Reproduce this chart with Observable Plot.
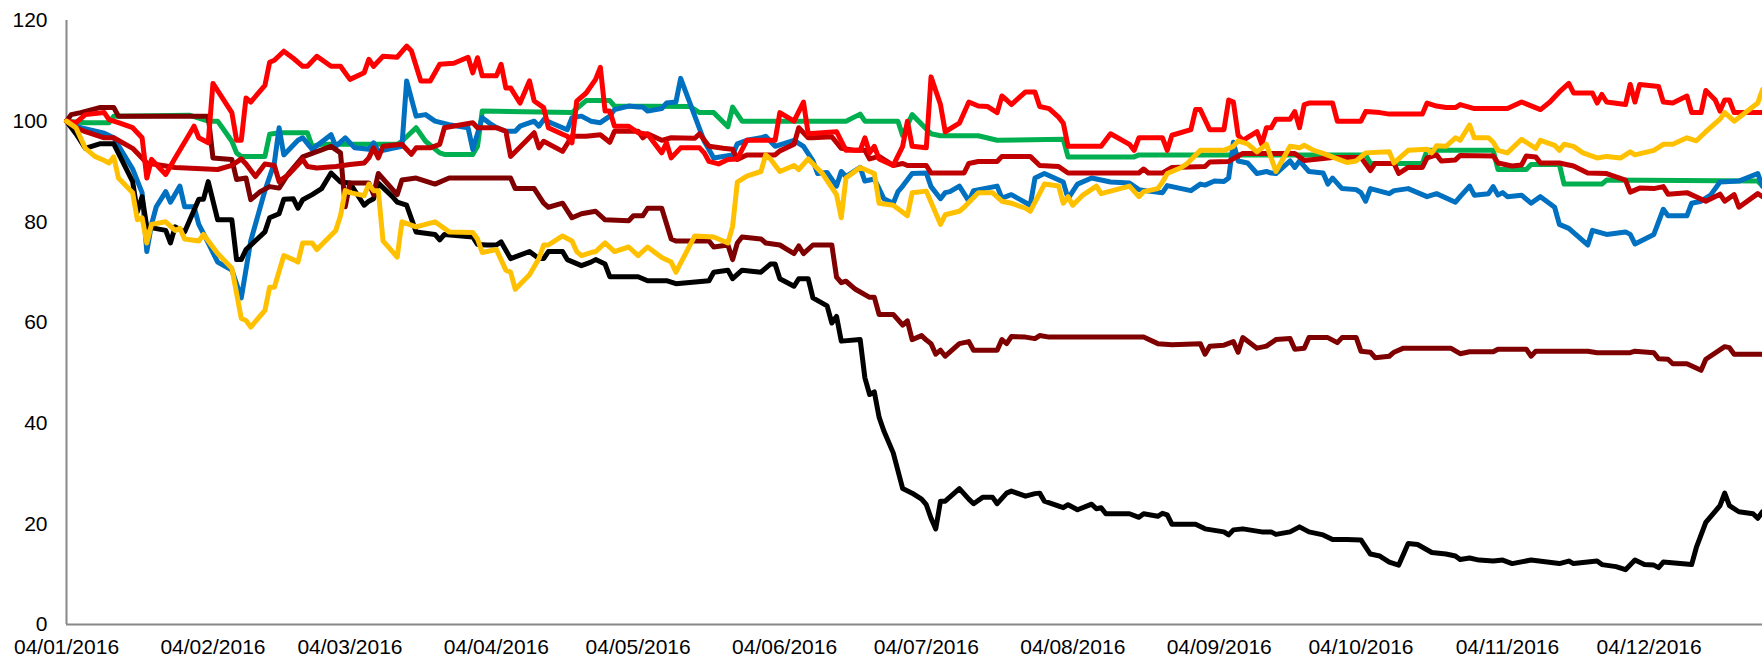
<!DOCTYPE html>
<html>
<head>
<meta charset="utf-8">
<script src="https://cdn.jsdelivr.net/npm/d3@7"></script>
<script src="https://cdn.jsdelivr.net/npm/@observablehq/plot@0.6"></script>
<style>
  html, body { margin: 0; padding: 0; background: #ffffff; }
  #chart svg { display: block; }
</style>
</head>
<body>
<div id="chart"></div>
<script>
// ---- data ----
const year = 2016;
const tickDates = ["01-04","02-04","03-04","04-04","05-04","06-04","07-04","08-04","09-04","10-04","11-04","12-04"];
const yTicks = [0, 20, 40, 60, 80, 100, 120];
// drawing order (bottom to top) and colours
const seriesNames = ["Series G", "Series B", "Series K", "Series M", "Series D", "Series R", "Series Y"];
const seriesColors = ["#00B050", "#0070C0", "#000000", "#7F0000", "#C00000", "#FF0000", "#FFC000"];

const black = [["01-04",100],["01-06",97.5],["01-08",94.6],["01-11",95.5],["01-14",95.5],["01-18",88],["01-19",82],["01-20",85],["01-21",79],["01-25",78.3],["01-26",75.8],["01-27",79],["01-29",78],["02-01",84.5],["02-02",84.5],["02-03",88],["02-05",80.4],["02-08",80.4],["02-09",72.5],["02-10",72.5],["02-11",74.5],["02-15",78],["02-16",80.8],["02-18",81.6],["02-19",84.5],["02-21",84.6],["02-22",82.7],["02-23",84.4],["02-25",85.4],["02-27",86.6],["02-29",89.7],["03-02",87.9],["03-04",87.7],["03-07",83.3],["03-08",84.1],["03-09",84.6],["03-10",87.7],["03-13",85],["03-14",83.9],["03-16",83.3],["03-18",78],["03-22",77.5],["03-23",76.4],["03-24",77.5],["03-30",77],["03-31",75.5],["04-02",75.4],["04-04",75.4],["04-05",76],["04-07",72.7],["04-11",74.1],["04-13",72.7],["04-14",72.7],["04-15",74.1],["04-18",74.1],["04-19",72.5],["04-22",71.3],["04-24",72],["04-25",72.5],["04-27",71.6],["04-28",69.1],["05-04",69.1],["05-06",68.3],["05-10",68.3],["05-12",67.7],["05-19",68.3],["05-20",70],["05-23",70.4],["05-24",68.7],["05-26",70.4],["05-30",70],["06-01",71.6],["06-02",71.6],["06-03",68.7],["06-06",67.2],["06-07",68.7],["06-09",68.7],["06-10",64.9],["06-13",63.3],["06-14",59.9],["06-15",61.2],["06-16",56.3],["06-20",56.6],["06-21",49],["06-22",45.7],["06-23",46.2],["06-24",41.2],["06-25",38.5],["06-27",34.1],["06-29",27],["07-01",26.1],["07-03",24.9],["07-04",23.8],["07-05",21.1],["07-06",19],["07-07",24.5],["07-08",24.5],["07-11",27],["07-13",24.9],["07-14",24],["07-16",25.3],["07-18",25.3],["07-19",24],["07-21",26.1],["07-22",26.5],["07-25",25.5],["07-27",26],["07-28",26.1],["07-29",24.5],["08-02",23.2],["08-03",23.8],["08-05",22.8],["08-08",23.9],["08-09",23],["08-10",23.2],["08-11",22],["08-16",22],["08-18",21.3],["08-19",22],["08-22",21.5],["08-23",22.1],["08-24",21.8],["08-25",19.9],["08-30",19.9],["09-01",19],["09-05",18.4],["09-06",17.8],["09-07",18.8],["09-09",19],["09-13",18.4],["09-15",18.4],["09-16",17.9],["09-19",18.4],["09-21",19.4],["09-23",18.4],["09-26",17.8],["09-28",16.9],["10-01",16.9],["10-04",16.8],["10-06",14],["10-08",13.6],["10-10",12.4],["10-12",11.8],["10-14",16.1],["10-16",15.9],["10-19",14.3],["10-22",14],["10-24",13.6],["10-25",12.9],["10-27",13.2],["10-29",12.8],["11-01",12.6],["11-03",12.8],["11-05",12.1],["11-09",12.8],["11-15",12.1],["11-17",12.6],["11-18",12.1],["11-21",12.4],["11-23",12.6],["11-24",11.9],["11-27",11.5],["11-29",10.9],["12-01",12.8],["12-03",11.9],["12-05",11.8],["12-06",11.3],["12-07",12.4],["12-13",11.9],["12-14",15.3],["12-16",20.3],["12-19",23.6],["12-20",26.1],["12-21",23.6],["12-23",22.4],["12-26",22],["12-27",21.1],["12-28",22.4]];

const maroon = [["01-04",100],["01-05",101.3],["01-07",101.7],["01-11",102.7],["01-14",102.7],["01-15",101],["02-03",101],["02-04",92.7],["02-08",92.4],["02-09",88.4],["02-11",88.7],["02-12",84.4],["02-14",86],["02-16",87],["02-18",86.7],["02-20",89.6],["02-23",92.9],["02-29",95],["03-02",93.7],["03-03",83],["03-04",87.7],["03-08",87.7],["03-09",85.4],["03-10",89.6],["03-14",85.4],["03-15",88.3],["03-18",88.7],["03-22",87.5],["03-25",88.7],["04-07",88.7],["04-08",86.6],["04-12",86.6],["04-14",83.7],["04-15",82.9],["04-18",83.7],["04-20",80.8],["04-22",81.6],["04-25",82.1],["04-27",80.4],["05-02",80.2],["05-03",81.2],["05-05",81.2],["05-06",82.7],["05-09",82.7],["05-11",76.6],["05-12",76.2],["05-19",76.2],["05-20",75],["05-23",75.4],["05-24",72.5],["05-25",75.8],["05-26",77],["05-30",76.6],["05-31",75.8],["06-03",75.4],["06-06",73.7],["06-07",75.2],["06-08",73.7],["06-10",75.4],["06-14",75.4],["06-15",69],["06-16",67.9],["06-17",68.2],["06-19",66.6],["06-22",65],["06-23",65],["06-24",61.6],["06-27",61.6],["06-29",59.5],["06-30",60.3],["07-01",56.6],["07-03",57.4],["07-04",56.5],["07-05",55.8],["07-06",53.7],["07-07",54.5],["07-08",53.3],["07-11",55.8],["07-13",56.2],["07-14",54.5],["07-19",54.5],["07-20",56.6],["07-21",55.8],["07-22",57.2],["07-25",57.1],["07-27",56.8],["07-28",57.4],["07-30",57.1],["08-19",57.1],["08-22",55.8],["08-25",55.6],["08-31",55.8],["09-01",53.7],["09-02",55.3],["09-05",55.5],["09-07",56.2],["09-08",54.1],["09-09",57],["09-12",54.9],["09-14",55.3],["09-16",56.6],["09-19",56.8],["09-20",54.7],["09-22",54.9],["09-23",57],["09-27",57],["09-29",56],["09-30",57],["10-03",57],["10-04",54.3],["10-06",54.1],["10-07",53],["10-10",53.3],["10-11",54.1],["10-13",54.9],["10-23",54.9],["10-25",53.8],["10-27",54.2],["11-01",54.2],["11-02",54.7],["11-08",54.7],["11-09",53.3],["11-10",54.3],["11-21",54.3],["11-23",54],["11-30",54],["12-01",54.3],["12-05",54],["12-06",52.8],["12-08",52.7],["12-09",51.8],["12-12",51.8],["12-15",50.5],["12-16",52.7],["12-20",55.2],["12-21",55],["12-22",53.7],["12-28",53.7]];

const darkred = [["01-04",100],["01-06",98.7],["01-08",97.9],["01-12",96.7],["01-14",96.7],["01-18",94.6],["01-21",91.7],["01-27",90.8],["02-05",90.4],["02-08",91.2],["02-10",92.5],["02-11",91.5],["02-13",89],["02-15",91.5],["02-17",91.2],["02-18",88],["02-20",89.4],["02-23",92.4],["02-24",91],["02-26",90.7],["03-01",91],["03-04",91.4],["03-07",91.7],["03-08",92.7],["03-09",94.7],["03-10",92.7],["03-11",95],["03-15",95.4],["03-17",93.4],["03-18",94.7],["03-21",94.7],["03-23",95.4],["03-24",98.7],["03-30",99.7],["03-31",98.7],["04-04",98.7],["04-06",98],["04-07",93],["04-12",97.7],["04-13",94.7],["04-14",96],["04-18",94],["04-20",97],["04-23",97],["04-26",97.3],["04-28",95.8],["04-29",98],["05-04",98],["05-05",96.7],["05-06",97.5],["05-09",96.2],["05-11",96.7],["05-16",96.6],["05-17",97.5],["05-19",95],["05-22",94.6],["05-24",94.4],["05-25",92.4],["05-27",93.3],["06-02",93.3],["06-03",94.1],["06-06",95.4],["06-07",98.7],["06-09",96.7],["06-10",96.7],["06-14",96.9],["06-16",94.6],["06-19",94.2],["06-21",94.2],["06-22",92.5],["06-24",93],["06-27",91.2],["06-29",91.6],["06-30",91.2],["07-04",91.2],["07-05",89.7],["07-12",89.7],["07-13",91.6],["07-15",92],["07-19",92],["07-20",93],["07-26",93],["07-28",91.2],["08-01",91],["08-03",89.7],["08-18",89.7],["08-19",90.5],["08-20",89.7],["08-23",89.7],["08-25",90.8],["09-01",91],["09-02",91.9],["09-06",92],["09-09",93.6],["09-20",93.6],["09-22",92.2],["09-28",92.8],["10-04",92.8],["10-06",90.2],["10-07",91.6],["10-11",91.6],["10-12",89.6],["10-14",90.8],["10-17",90.8],["10-18",92.7],["10-20",93.3],["10-21",92.1],["10-24",92.3],["10-25",93.2],["11-01",93.1],["11-02",91.7],["11-05",91.1],["11-07",91.3],["11-08",93.1],["11-10",92.9],["11-11",91.7],["11-15",91.7],["11-18",91.1],["11-21",89.7],["11-25",89.6],["11-29",88.3],["11-30",85.9],["12-02",86.7],["12-05",86.6],["12-07",87],["12-08",85.5],["12-12",85.8],["12-16",84.1],["12-19",85.5],["12-20",84.1],["12-22",85.4],["12-23",82.9],["12-27",85.6],["12-28",85]];

const red = [["01-04",100],["01-06",99.7],["01-08",101.3],["01-12",101.7],["01-13",100.3],["01-15",99.7],["01-18",98.7],["01-19",97.7],["01-20",96.7],["01-21",88.7],["01-22",92.4],["01-25",89.4],["01-27",92.7],["01-30",97.4],["01-31",99],["02-01",96.7],["02-03",95.7],["02-04",107.5],["02-08",101.7],["02-09",96.2],["02-10",96.2],["02-11",104.6],["02-12",103.8],["02-15",107.1],["02-16",111.7],["02-17",112.1],["02-19",113.9],["02-21",112.5],["02-23",110.9],["02-24",110.9],["02-26",112.9],["02-29",110.9],["03-02",110.9],["03-04",108.3],["03-07",109.6],["03-08",112.3],["03-09",110.9],["03-11",112.9],["03-14",112.7],["03-16",114.9],["03-17",114],["03-19",108],["03-21",108],["03-23",111.3],["03-26",111.5],["03-29",112.7],["03-30",109.6],["03-31",112.6],["04-01",109],["04-04",109],["04-05",111.3],["04-06",106.6],["04-07",106.6],["04-09",103.6],["04-11",108],["04-12",104],["04-14",102.7],["04-15",98.7],["04-18",97.4],["04-19",97],["04-20",95.7],["04-21",104],["04-23",105.6],["04-25",108.3],["04-26",110.7],["04-27",102],["04-28",102],["04-29",99],["05-02",99],["05-04",97.7],["05-06",97.4],["05-09",93.7],["05-10",95.7],["05-11",92.7],["05-13",94.7],["05-17",94.7],["05-18",93.7],["05-19",92],["05-21",91.5],["05-23",92.4],["05-25",92.5],["05-27",96.2],["06-02",96.2],["06-03",101.7],["06-06",100],["06-08",103.8],["06-09",97.5],["06-15",97.9],["06-17",94.2],["06-20",94.2],["06-21",96.7],["06-22",93.7],["06-23",95],["06-24",92.5],["06-27",91.2],["06-29",95],["06-30",100],["07-01",95],["07-04",94.7],["07-05",108.8],["07-07",103.3],["07-08",97.9],["07-11",99.6],["07-13",103.8],["07-15",103],["07-17",102.9],["07-19",101.7],["07-20",105],["07-21",104.2],["07-22",103.3],["07-25",105.8],["07-27",105.8],["07-28",102.9],["07-30",102.5],["08-01",100.8],["08-02",99.6],["08-03",95],["08-10",95],["08-12",97.5],["08-16",95.4],["08-17",94.2],["08-18",96.7],["08-23",96.7],["08-24",94.2],["08-25",97.2],["08-29",98.3],["08-30",102.3],["08-31",102.3],["09-02",98.3],["09-05",98.3],["09-06",104.2],["09-07",103.8],["09-08",97.2],["09-09",96.2],["09-12",97.9],["09-13",95.4],["09-14",98.7],["09-15",98.7],["09-16",100.4],["09-19",100.4],["09-20",101.9],["09-21",98.7],["09-22",103.3],["09-23",103.6],["09-28",103.6],["09-29",100],["10-04",100],["10-05",101.9],["10-08",101.7],["10-10",101.4],["10-17",101.4],["10-18",103.6],["10-20",103],["10-22",102.7],["10-24",102.7],["10-25",103.3],["10-28",102.5],["11-04",102.5],["11-07",103.8],["11-11",102.3],["11-13",103.8],["11-15",105.8],["11-17",107.5],["11-18",105.6],["11-22",105.6],["11-23",103.6],["11-24",105.3],["11-25",103.8],["11-29",103.3],["11-30",107.3],["12-01",103.8],["12-02",107.3],["12-06",106.9],["12-07",103.8],["12-09",103.6],["12-12",105],["12-13",101.7],["12-15",101.7],["12-16",106.1],["12-18",104.2],["12-19",102],["12-20",104.2],["12-21",104.2],["12-22",101.7],["12-28",101.7]];

const blue = [["01-04",100],["01-07",98.7],["01-12",97.6],["01-14",96.7],["01-18",90.5],["01-20",85.8],["01-21",74.1],["01-22",79.5],["01-23",83],["01-25",86],["01-26",83.9],["01-28",87.1],["01-29",83],["01-31",83],["02-01",79.5],["02-03",75.8],["02-05",72],["02-08",70.4],["02-10",64.9],["02-12",76.2],["02-15",86.2],["02-17",91.7],["02-18",98.7],["02-19",93.3],["02-22",96.2],["02-23",96.7],["02-25",94.4],["02-29",97.3],["03-01",95],["03-03",96.7],["03-05",94.7],["03-08",94.4],["03-09",95.7],["03-10",94],["03-15",95],["03-16",108],["03-18",101],["03-20",101.3],["03-22",100],["03-25",99.3],["03-29",98.7],["03-30",94.4],["04-01",100.7],["04-03",99.3],["04-04",98.7],["04-06",98],["04-08",98],["04-09",99],["04-12",100],["04-13",99],["04-14",100.3],["04-16",99.5],["04-19",98.3],["04-20",100.7],["04-22",101],["04-24",100],["04-26",99.7],["04-28",101],["04-29",102.3],["05-02",103],["05-04",102.8],["05-05",102.8],["05-06",102],["05-09",102.5],["05-10",103.6],["05-12",103.8],["05-13",108.5],["05-16",101],["05-18",96],["05-20",92.7],["05-24",93.3],["05-25",95.5],["05-27",96.2],["05-30",96.7],["05-31",97],["06-02",95],["06-06",96.2],["06-08",95],["06-10",92.1],["06-11",89.6],["06-13",89.8],["06-15",87.1],["06-16",90],["06-17",89],["06-20",90.8],["06-21",88.1],["06-23",88.5],["06-24",86.6],["06-25",84.6],["06-27",83.7],["06-28",86],["06-29",87.1],["07-01",89.6],["07-04",89.7],["07-05",87],["07-07",84.6],["07-08",85.8],["07-09",86],["07-11",87.1],["07-13",84.1],["07-14",86.2],["07-19",87.1],["07-20",84.7],["07-22",85.4],["07-26",83.3],["07-27",88.7],["07-29",89.6],["08-02",87.9],["08-03",84.6],["08-05",87.5],["08-08",88.7],["08-12",87.9],["08-16",87.7],["08-18",86.4],["08-20",86.1],["08-23",85.8],["08-24",87.2],["08-27",86.6],["08-29",86.2],["08-31",87.5],["09-01",87.3],["09-03",88.1],["09-05",88],["09-06",88.7],["09-07",95.8],["09-08",92.1],["09-10",91.7],["09-12",89.6],["09-14",90],["09-15",89.7],["09-16",89.6],["09-19",92.1],["09-20",90.8],["09-21",92.1],["09-23",90],["09-26",89.7],["09-27",87.5],["09-28",88.7],["09-30",86.6],["10-03",86.4],["10-04",85.8],["10-05",84.1],["10-06",86.6],["10-10",85.6],["10-11",86.2],["10-14",86.6],["10-18",85],["10-20",85.6],["10-24",83.9],["10-25",85],["10-27",87.1],["10-28",85.3],["10-31",85.6],["11-01",87],["11-02",85.3],["11-03",85.8],["11-04",85],["11-07",85.3],["11-09",83.7],["11-11",85],["11-14",82.9],["11-15",79.5],["11-17",78.7],["11-21",75.4],["11-22",78.3],["11-25",77.5],["11-29",78],["11-30",77.5],["12-01",75.6],["12-05",77.5],["12-07",82.5],["12-08",81.2],["12-12",81.2],["12-13",83.7],["12-15",84.1],["12-17",85.3],["12-19",87.9],["12-23",88.1],["12-27",89.6],["12-28",87.1]];

const green = [["01-04",100],["01-08",99.7],["01-13",99.7],["01-14",101],["01-30",101.2],["02-03",100],["02-05",100],["02-06",98.7],["02-08",96],["02-09",93.7],["02-10",93],["02-15",93],["02-16",97.4],["02-18",97.7],["02-24",97.7],["02-25",95],["02-27",95.4],["03-14",95.4],["03-15",96],["03-18",98.7],["03-20",96],["03-23",93.7],["03-24",93.4],["03-30",93.4],["03-31",95],["04-01",102],["04-20",101.7],["04-23",104.1],["04-28",104.1],["04-29",103],["05-15",102.9],["05-17",101.7],["05-20",101.7],["05-23",98.9],["05-24",102.8],["05-26",100],["06-17",100],["06-20",101.4],["06-21",100],["06-28",100],["06-29",97.1],["07-01",101.3],["07-05",97.5],["07-07",97.1],["07-15",97.1],["07-19",96.2],["08-02",96.4],["08-03",92.9],["08-17",92.9],["08-18",93.3],["10-05",93.3],["10-06",91.6],["10-17",91.6],["10-18",94.2],["11-01",94.2],["11-02",90.4],["11-08",90.4],["11-09",91.4],["11-15",91.4],["11-16",87.5],["11-24",87.5],["11-25",88.3],["12-27",88.1],["12-28",87.1]];

const yellow = [["01-04",100],["01-06",98.7],["01-08",94.6],["01-10",93],["01-12",92.2],["01-13",91.7],["01-14",92.9],["01-15",88.7],["01-18",85.8],["01-19",80.4],["01-20",80.8],["01-21",75.8],["01-22",79.5],["01-25",80],["01-27",78.3],["01-28",78.7],["01-29",76.6],["02-01",76.2],["02-02",77.5],["02-05",73.7],["02-08",70.8],["02-10",60.8],["02-11",60.4],["02-12",59.1],["02-15",62.4],["02-16",67],["02-17",67],["02-19",73.3],["02-21",72.5],["02-22",72],["02-23",75.8],["02-25",75.8],["02-26",74.5],["03-01",78.3],["03-02",81.2],["03-03",86.2],["03-04",85.8],["03-05",85.6],["03-07",85.2],["03-08",87.5],["03-09",86.2],["03-10",86.2],["03-11",76.2],["03-14",73],["03-15",80],["03-18",79],["03-22",80],["03-25",78],["03-30",77.9],["03-31",76.6],["04-01",73.9],["04-04",74.5],["04-06",70.4],["04-07",70],["04-08",66.6],["04-11",69.5],["04-13",72.7],["04-14",75.4],["04-15",75.4],["04-18",77.2],["04-20",76.2],["04-21",74.1],["04-22",73.3],["04-24",73.9],["04-25",74.1],["04-27",75.8],["04-29",74.1],["05-02",75],["05-04",73.3],["05-06",75],["05-09",72.9],["05-11",72],["05-12",70],["05-16",77.2],["05-20",77],["05-23",75.8],["05-24",79.1],["05-25",87.9],["05-27",89.1],["05-30",90],["05-31",93.3],["06-01",92.5],["06-03",90],["06-06",91.2],["06-07",90.4],["06-09",92.5],["06-12",89.6],["06-15",85.4],["06-16",80.8],["06-17",88.7],["06-20",90.8],["06-23",89.6],["06-24",83.7],["06-27",83.3],["06-30",81.2],["07-01",85.8],["07-04",86.1],["07-07",79.5],["07-08",81.4],["07-11",82.1],["07-12",82.9],["07-15",85.8],["07-18",85.8],["07-20",84.1],["07-22",83.7],["07-25",82.7],["07-26",82.1],["07-29",87.5],["08-01",87.1],["08-02",83.7],["08-03",85],["08-04",83.3],["08-06",85.2],["08-09",87.1],["08-10",85.6],["08-16",87.1],["08-18",85],["08-19",86],["08-22",86.6],["08-23",87.9],["08-24",89.6],["08-27",90.8],["08-28",91.4],["08-31",94.2],["09-05",94.2],["09-07",95],["09-08",96.1],["09-10",95.5],["09-12",93.9],["09-14",95.4],["09-16",90],["09-19",95],["09-21",94.7],["09-22",95.2],["09-24",94.2],["09-26",93.6],["09-29",92.5],["10-01",91.8],["10-03",92.1],["10-05",93.7],["10-10",93.9],["10-11",91.7],["10-14",94.2],["10-18",94.4],["10-19",93.7],["10-20",95.1],["10-22",95],["10-24",96.7],["10-25",96.2],["10-27",99.2],["10-28",96.7],["10-31",96.7],["11-01",95.8],["11-02",94.2],["11-04",93.7],["11-07",96.4],["11-10",94.6],["11-11",96.2],["11-14",95.2],["11-15",94.2],["11-16",95.4],["11-18",95],["11-20",93.7],["11-23",92.7],["11-25",93],["11-28",92.7],["11-30",93.9],["12-01",93.3],["12-05",94.2],["12-07",95.4],["12-09",95.4],["12-12",96.7],["12-14",96.1],["12-16",97.9],["12-19",100.4],["12-20",101.7],["12-22",100],["12-27",103.6],["12-28",106.3]];

// ---- build table ----
const toDate = md => new Date(Date.UTC(year, +md.slice(0, 2) - 1, +md.slice(3, 5)));
const seriesValues = [green, blue, black, maroon, darkred, red, yellow];
const rows = [];
seriesNames.forEach((name, i) => {
  for (const [md, v] of seriesValues[i]) rows.push({ series: name, date: toDate(md), value: v });
});

const chart = Plot.plot({
  width: 1762,
  height: 660,
  marginLeft: 66,
  marginRight: 0,
  marginTop: 20,
  marginBottom: 36,
  style: {
    fontFamily: "'Liberation Sans', Arial, sans-serif",
    fontSize: "21px",
    background: "#ffffff",
    color: "#000000",
    overflow: "visible"
  },
  x: {
    type: "utc",
    domain: [toDate("01-04"), toDate("12-28")],
    ticks: tickDates.map(toDate),
    tickFormat: d3.utcFormat("%d/%m/%Y"),
    tickSize: 0,
    tickPadding: 15,
    label: null
  },
  y: {
    domain: [0, 120],
    ticks: yTicks,
    tickSize: 0,
    tickPadding: 19,
    label: null
  },
  color: { type: "categorical", domain: seriesNames, range: seriesColors },
  marks: [
    Plot.ruleY([0], { stroke: "#888888", strokeWidth: 2 }),
    Plot.ruleX([toDate("01-04")], { stroke: "#888888", strokeWidth: 2 }),
    Plot.line(rows, {
      x: "date",
      y: "value",
      z: "series",
      stroke: "series",
      strokeWidth: 5,
      strokeLinejoin: "round",
      strokeLinecap: "round"
    })
  ]
});
document.getElementById("chart").appendChild(chart);
</script>
</body>
</html>
